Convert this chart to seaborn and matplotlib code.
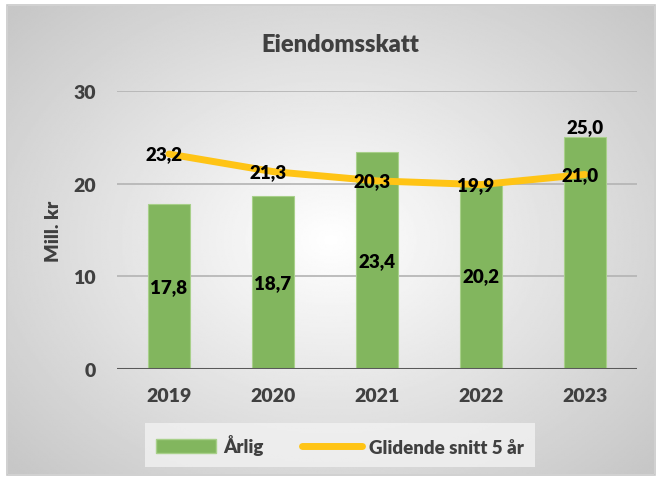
import numpy as np
import matplotlib
matplotlib.use("Agg")
import matplotlib.pyplot as plt
import seaborn as sns
from matplotlib.patches import Patch, Rectangle
from matplotlib.lines import Line2D

# Data
years = ["2019", "2020", "2021", "2022", "2023"]
arlig = [17.8, 18.7, 23.4, 20.2, 25.0]
snitt_5ar = [23.2, 21.3, 20.3, 19.9, 21.0]
y_ticks = [0, 10, 20, 30]

bar_color = "#82b65e"
line_color = "#ffc415"
text_color = "#404040"

sns.set_style("white")
plt.rcParams["font.family"] = ["Lato", "DejaVu Sans"]
plt.rcParams["font.weight"] = "heavy"

fig = plt.figure(figsize=(6.62, 4.81), dpi=100)

# Radial gradient background inside a gray border
bg = fig.add_axes([8 / 662, 6 / 481, 646 / 662, 468 / 481], zorder=-5)
gx, gy = np.meshgrid(np.linspace(-1, 1, 400), np.linspace(-1, 1, 300))
r = np.sqrt(gx ** 2 + (gy * 0.95) ** 2)
bg.imshow(1 - 0.22 * np.clip(r / 1.35, 0, 1), cmap="gray", vmin=0, vmax=1,
          aspect="auto", extent=[0, 1, 0, 1])
bg.set_axis_off()
fig.patches.append(Rectangle((7 / 662, 5 / 481), 648 / 662, 470 / 481, transform=fig.transFigure,
                             fill=False, edgecolor="#c8c8c8", linewidth=1.2))

ax = fig.add_axes([117 / 662, 1 - 370 / 481, 520 / 662, 278 / 481])
ax.patch.set_alpha(0)

sns.barplot(x=years, y=arlig, color=bar_color, width=0.41, saturation=1,
            edgecolor="#a8d08a", linewidth=0.8, ax=ax, zorder=2)
sns.lineplot(x=np.arange(len(years)), y=snitt_5ar, color=line_color, linewidth=5,
             solid_capstyle="round", ax=ax, zorder=3)

ax.set_ylim(0, 30)
ax.set_xlim(-0.5, len(years) - 0.5)
ax.set_yticks(y_ticks)
ax.yaxis.grid(True, color="#b3b3b3", linewidth=1.2, zorder=0)
ax.set_axisbelow(True)
ax.axhline(0, color="#595959", linewidth=2.2, zorder=4)
for s in ax.spines.values():
    s.set_visible(False)
ax.tick_params(axis="both", length=0, labelsize=14, labelcolor=text_color)
ax.tick_params(axis="y", pad=15)
ax.tick_params(axis="x", pad=13)
for lbl in ax.get_xticklabels() + ax.get_yticklabels():
    lbl.set_fontweight("heavy")
ax.set_ylabel("Mill. kr", fontsize=14, fontweight="heavy", color=text_color, labelpad=8)
ax.set_xlabel("")

# Data labels
for i, v in enumerate(arlig):
    y = v / 2 if i < len(arlig) - 1 else v + 1.2
    ax.text(i, y, f"{v:.1f}".replace(".", ","), ha="center", va="center",
            fontsize=13.5, fontweight="heavy", color="black", zorder=5, clip_on=False)
for i, v in enumerate(snitt_5ar):
    ax.text(i - 0.05, v, f"{v:.1f}".replace(".", ","), ha="center", va="center",
            fontsize=13.5, fontweight="heavy", color="black", zorder=5)

fig.text(340 / 662, 1 - 45 / 481, "Eiendomsskatt", ha="center", va="center",
         fontsize=17, fontweight="heavy", color=text_color)

handles = [Patch(facecolor=bar_color, edgecolor="#a8d08a", label="Årlig"),
           Line2D([0], [0], color=line_color, linewidth=5, solid_capstyle="round",
                  label="Glidende snitt 5 år")]
leg = fig.legend(handles=handles, loc="center", bbox_to_anchor=(340 / 662, 1 - 446 / 481),
                 ncol=2, frameon=True, fancybox=False, fontsize=13.5, handlelength=3.2,
                 handleheight=0.7, columnspacing=2.0, borderpad=0.6, handletextpad=0.4)
leg.get_frame().set_facecolor("#f2f2f2")
leg.get_frame().set_edgecolor("none")
for t in leg.get_texts():
    t.set_color(text_color)
    t.set_fontweight("heavy")

fig.savefig("out.png", dpi=100)
